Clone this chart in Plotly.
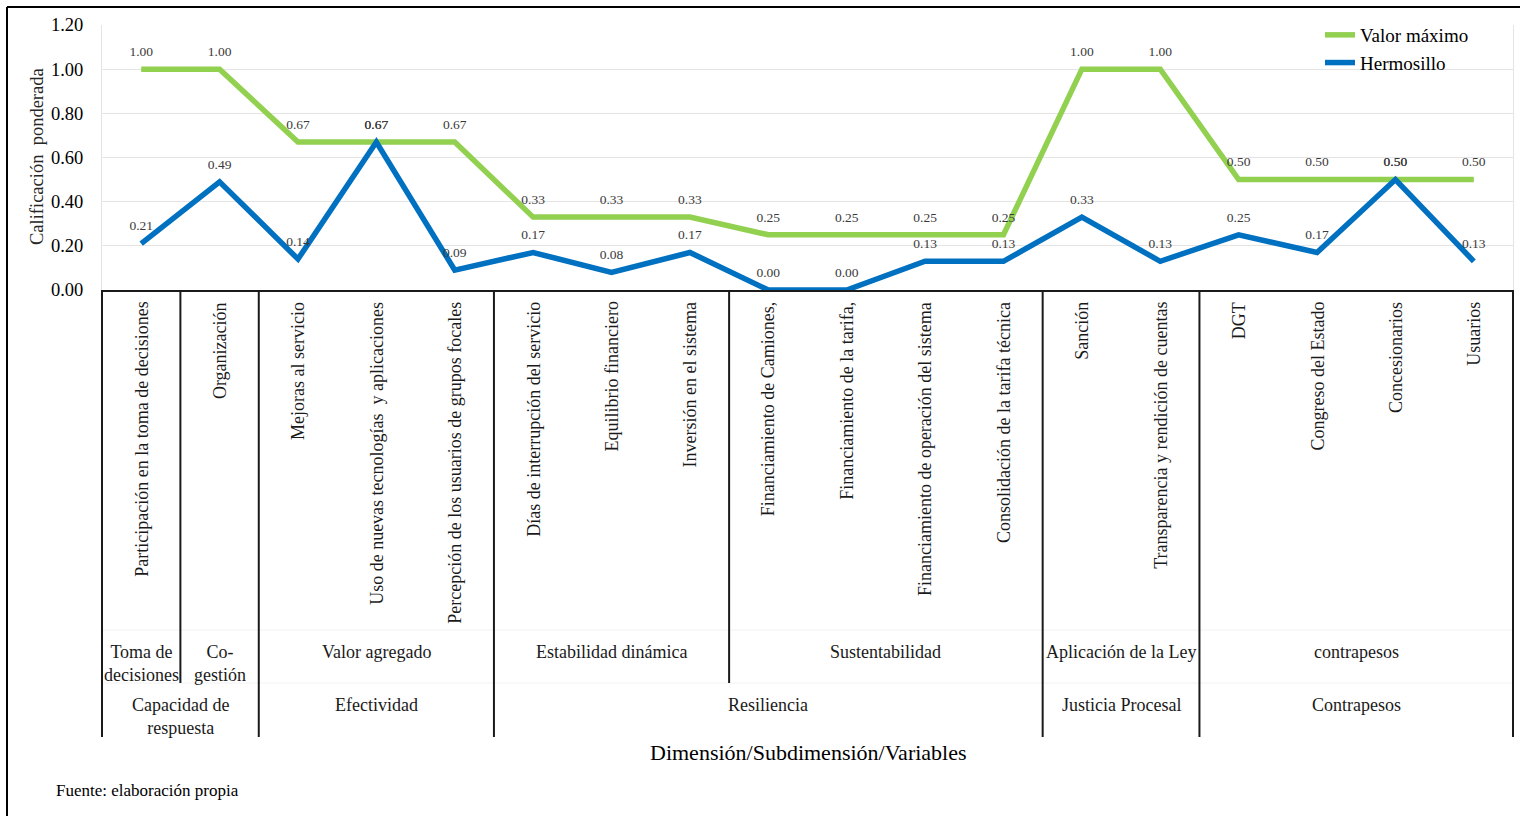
import plotly.graph_objects as go

# ---- data ----
variables = [
    "Participación en la toma de decisiones",
    "Organización",
    "Mejoras al servicio",
    "Uso de nuevas tecnologías  y aplicaciones",
    "Percepción de los usuarios de grupos focales",
    "Días de interrupción del servicio",
    "Equilibrio financiero",
    "Inversión en el sistema",
    "Financiamiento de Camiones,",
    "Financiamiento de la tarifa,",
    "Financiamiento de operación del sistema",
    "Consolidación de la tarifa técnica",
    "Sanción",
    "Transparencia y rendición de cuentas",
    "DGT",
    "Congreso del Estado",
    "Concesionarios",
    "Usuarios",
]
valor_maximo = [1.00, 1.00, 0.67, 0.67, 0.67, 0.33, 0.33, 0.33, 0.25, 0.25,
                0.25, 0.25, 1.00, 1.00, 0.50, 0.50, 0.50, 0.50]
hermosillo = [0.21, 0.49, 0.14, 0.67, 0.09, 0.17, 0.08, 0.17, 0.00, 0.00,
              0.13, 0.13, 0.33, 0.13, 0.25, 0.17, 0.50, 0.13]

# subdimension groups: (label, first index, last index)
subdimensiones = [
    ("Toma de<br>decisiones", 0, 0),
    ("Co-<br>gestión", 1, 1),
    ("Valor agregado", 2, 4),
    ("Estabilidad dinámica", 5, 7),
    ("Sustentabilidad", 8, 11),
    ("Aplicación de la Ley", 12, 13),
    ("contrapesos", 14, 17),
]
# dimension groups: (label, first index, last index)
dimensiones = [
    ("Capacidad de<br>respuesta", 0, 1),
    ("Efectividad", 2, 4),
    ("Resiliencia", 5, 11),
    ("Justicia Procesal", 12, 13),
    ("Contrapesos", 14, 17),
]
# category boundaries whose divider stops at the subdimension row
short_dividers = [1, 8]
# category boundaries whose divider spans all rows
long_dividers = [0, 2, 5, 12, 14, 18]

# ---- layout geometry (pixels) ----
W, H = 1520, 816
PX0, PX1 = 102, 1513      # plot area left / right
PY0, PY1 = 25, 290        # plot area top / bottom
N = len(variables)
SERIF = "Liberation Serif, Times New Roman, serif"
GREEN = "#92D050"
BLUE = "#0070C0"


def px(x):
    return x / W


def py(y):
    return (H - y) / H


def edge(k):
    # paper x of the boundary k between categories
    return px(PX0 + k * (PX1 - PX0) / N)


idx = list(range(N))
fig = go.Figure()

fig.add_trace(go.Scatter(
    x=idx, y=valor_maximo, name="Valor máximo",
    mode="lines+markers+text",
    line=dict(color=GREEN, width=5.5),
    marker=dict(size=14, color="rgba(0,0,0,0)"),
    text=[f"{v:.2f}" for v in valor_maximo],
    textposition="top center",
    textfont=dict(family=SERIF, size=13.5, color="#3a3a3a"),
    cliponaxis=False,
))
fig.add_trace(go.Scatter(
    x=idx, y=hermosillo, name="Hermosillo",
    mode="lines+markers+text",
    line=dict(color=BLUE, width=5.5),
    marker=dict(size=14, color="rgba(0,0,0,0)"),
    text=[f"{v:.2f}" for v in hermosillo],
    textposition="top center",
    textfont=dict(family=SERIF, size=13.5, color="#3a3a3a"),
    cliponaxis=False,
))

annotations = []
# variable names, rotated
for i, name in enumerate(variables):
    annotations.append(dict(
        x=i, xref="x", y=py(300), yref="paper",
        text=name, textangle=-90, showarrow=False,
        xanchor="center", yanchor="top",
        font=dict(family=SERIF, size=18, color="#1a1a1a"),
    ))
# subdimension row
for label, a, b in subdimensiones:
    annotations.append(dict(
        x=(a + b) / 2, xref="x", y=py(640), yref="paper",
        text=label, showarrow=False, xanchor="center", yanchor="top",
        font=dict(family=SERIF, size=18, color="#1a1a1a"),
    ))
# dimension row
for label, a, b in dimensiones:
    annotations.append(dict(
        x=(a + b) / 2, xref="x", y=py(693), yref="paper",
        text=label, showarrow=False, xanchor="center", yanchor="top",
        font=dict(family=SERIF, size=18, color="#1a1a1a"),
    ))
# axis titles and source note
annotations.append(dict(
    x=px(809), xref="paper", y=py(752), yref="paper",
    text="Dimensión/Subdimensión/Variables", showarrow=False,
    xanchor="center", yanchor="middle",
    font=dict(family=SERIF, size=22, color="#000000"),
))
annotations.append(dict(
    x=px(37), xref="paper", y=py(157), yref="paper",
    text="Calificación  ponderada", textangle=-90, showarrow=False,
    xanchor="center", yanchor="middle",
    font=dict(family=SERIF, size=18.5, color="#262626"),
))
annotations.append(dict(
    x=px(54), xref="paper", y=py(790), yref="paper",
    text="Fuente: elaboración propia", showarrow=False,
    xanchor="left", yanchor="middle",
    font=dict(family=SERIF, size=17, color="#000000"),
))

shapes = []
line_style = dict(color="#1a1a1a", width=2)
for k in long_dividers:
    shapes.append(dict(type="line", xref="paper", yref="paper",
                       x0=edge(k), x1=edge(k), y0=py(PY1), y1=py(737),
                       line=line_style))
for k in short_dividers:
    shapes.append(dict(type="line", xref="paper", yref="paper",
                       x0=edge(k), x1=edge(k), y0=py(PY1), y1=py(683),
                       line=line_style))
# faint row separators in the category area
for yy in (630, 683):
    shapes.append(dict(type="line", xref="paper", yref="paper",
                       x0=edge(0), x1=edge(N), y0=py(yy), y1=py(yy),
                       line=dict(color="#F2F2F2", width=1), layer="below"))
# outer frame (top and left edges)
shapes.append(dict(type="line", xref="paper", yref="paper",
                   x0=px(7), x1=px(W), y0=py(7), y1=py(7),
                   line=dict(color="#000000", width=2)))
shapes.append(dict(type="line", xref="paper", yref="paper",
                   x0=px(7), x1=px(7), y0=py(7), y1=py(H),
                   line=dict(color="#000000", width=2)))

fig.update_layout(
    width=W, height=H, autosize=False,
    margin=dict(l=0, r=0, t=0, b=0, pad=0, autoexpand=False),
    paper_bgcolor="white", plot_bgcolor="white",
    showlegend=True,
    legend=dict(
        x=px(1320), y=py(16), xanchor="left", yanchor="top",
        bgcolor="rgba(0,0,0,0)", itemwidth=30, tracegroupgap=0,
        font=dict(family=SERIF, size=19, color="#000000"),
    ),
    xaxis=dict(
        domain=[px(PX0), px(PX1)], range=[-0.5, N - 0.5],
        showticklabels=False, showgrid=False, zeroline=False,
        showline=True, linecolor="#1a1a1a", linewidth=2, ticks="",
        fixedrange=True, automargin=False,
    ),
    yaxis=dict(
        domain=[py(PY1), py(PY0)], range=[0, 1.2],
        dtick=0.2, tickformat=".2f",
        showgrid=True, gridcolor="#E4E4E4", gridwidth=1,
        zeroline=False, showline=True, linecolor="#E4E4E4", mirror=True,
        ticks="", ticklabelstandoff=14,
        tickfont=dict(family=SERIF, size=18.5, color="#000000"),
        fixedrange=True, automargin=False,
    ),
    annotations=annotations,
    shapes=shapes,
)

fig.write_html("out.html")
